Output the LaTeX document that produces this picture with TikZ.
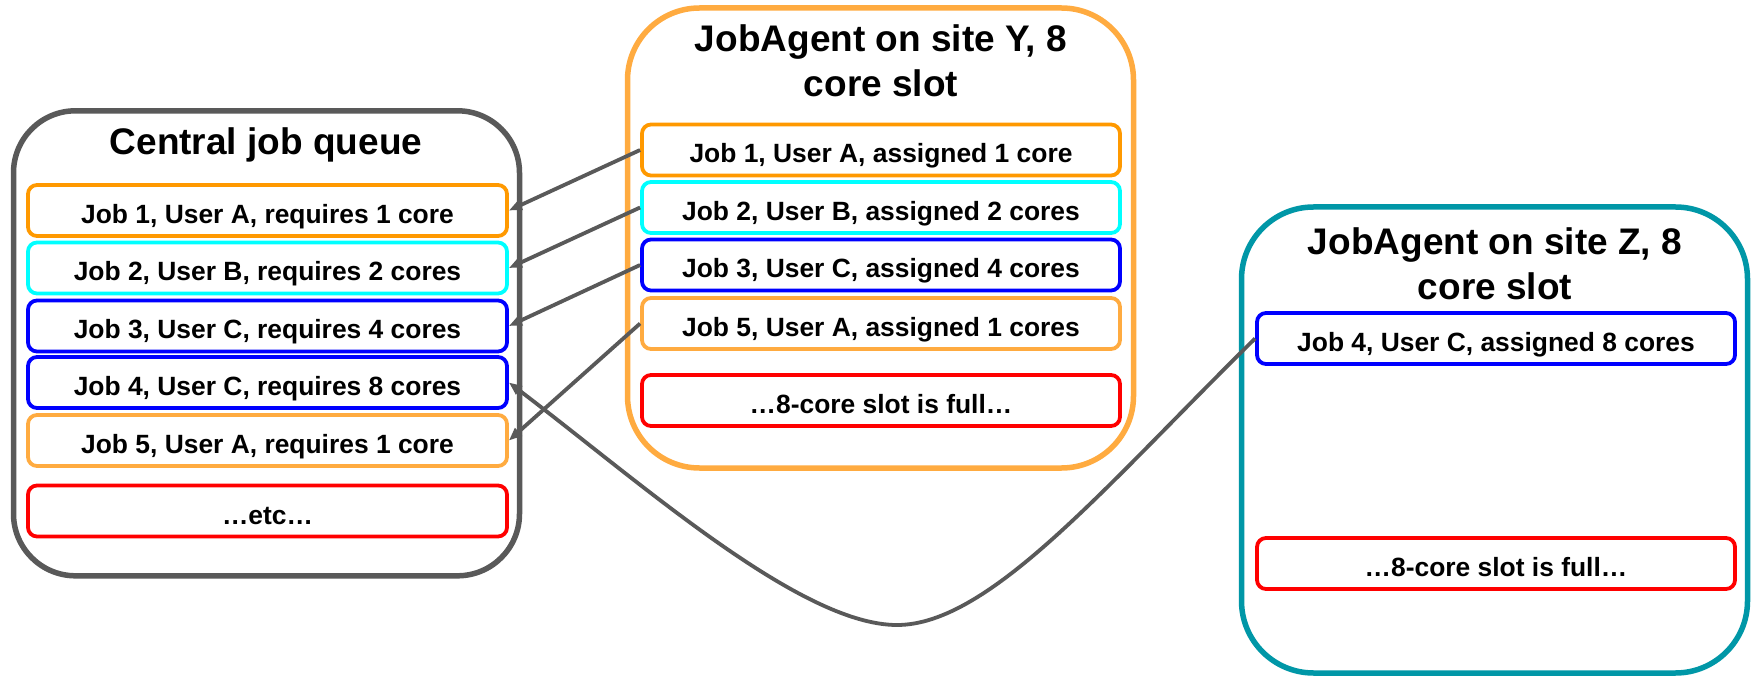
\documentclass[tikz,border=0pt]{standalone}
\usepackage{fontspec}
\setmainfont{Liberation Sans}
\usetikzlibrary{arrows.meta}

\definecolor{frame}{HTML}{595959}
\definecolor{jobA}{HTML}{FF9900}
\definecolor{jobAlt}{HTML}{FFAB40}
\definecolor{jobB}{HTML}{00FFFF}
\definecolor{jobC}{HTML}{0000FF}
\definecolor{fullred}{HTML}{FF0000}
\definecolor{siteZ}{HTML}{0097A7}

\tikzset{
  panel/.style={draw, line width=5.5pt, rounded corners=62pt, inner sep=0pt,
    minimum width=506pt, minimum height=465pt},
  jobbox/.style={draw, line width=3.8pt, rounded corners=9pt,
    minimum width=479pt, minimum height=51pt, inner sep=0pt,
    text height=26pt, text depth=0pt,
    font=\fontsize{26.4}{30}\selectfont\bfseries},
  paneltitle/.style={font=\fontsize{37}{45}\selectfont\bfseries,
    inner sep=0pt, anchor=base},
  link/.style={draw=frame, line width=3.8pt,
    -{Triangle[length=13pt,width=10pt]}}
}

\begin{document}
\begin{tikzpicture}[x=1pt, y=-1pt]
  \useasboundingbox[fill=white] (0,0) rectangle (1754,676);

  % the three panels
  \node[panel, draw=frame] (queue) at (266.5,343.3) {};
  \node[panel, draw=jobAlt, minimum height=460pt, rounded corners=72pt] (siteY) at (880.5,238) {};
  \node[panel, draw=siteZ, minimum height=466pt, rounded corners=72pt] (siteZ) at (1494.5,440) {};

  % panel titles
  \node[paneltitle] (queueTitle) at (266,155) {Central job queue};
  \node[paneltitle] (siteYTitle) at (881,52)
    {\begin{tabular}[t]{@{}c@{}}JobAgent on site Y, 8\\core slot\end{tabular}};
  \node[paneltitle] (siteZTitle) at (1495,255)
    {\begin{tabular}[t]{@{}c@{}}JobAgent on site Z, 8\\core slot\end{tabular}};

  % central queue entries
  \node[jobbox, draw=jobA]    (L1) at (267.5,210.5) {Job 1, User A, requires 1 core};
  \node[jobbox, draw=jobB]    (L2) at (267.5,268)   {Job 2, User B, requires 2 cores};
  \node[jobbox, draw=jobC]    (L3) at (267.5,326)   {Job 3, User C, requires 4 cores};
  \node[jobbox, draw=jobC]    (L4) at (267.5,382.5) {Job 4, User C, requires 8 cores};
  \node[jobbox, draw=jobAlt]  (L5) at (267.5,440.5) {Job 5, User A, requires 1 core};
  \node[jobbox, draw=fullred] (L6) at (267.5,511)   {…etc…};

  % site Y slot
  \node[jobbox, draw=jobA,    minimum width=478pt] (Y1) at (881,150)   {Job 1, User A, assigned 1 core};
  \node[jobbox, draw=jobB,    minimum width=478pt] (Y2) at (881,207.5) {Job 2, User B, assigned 2 cores};
  \node[jobbox, draw=jobC,    minimum width=478pt] (Y3) at (881,265)   {Job 3, User C, assigned 4 cores};
  \node[jobbox, draw=jobAlt,  minimum width=478pt] (Y5) at (881,323.5) {Job 5, User A, assigned 1 cores};
  \node[jobbox, draw=fullred, minimum width=478pt] (Y6) at (881,400.5) {…8-core slot is full…};

  % site Z slot
  \node[jobbox, draw=jobC,    minimum width=478pt] (Z4) at (1496,338.5) {Job 4, User C, assigned 8 cores};
  \node[jobbox, draw=fullred, minimum width=478pt] (Z6) at (1496,563.5) {…8-core slot is full…};

  % assignments back to the queue
  \draw[link] (Y1.west) -- (L1.east);
  \draw[link] (Y2.west) -- (L2.east);
  \draw[link] (Y3.west) -- (L3.east);
  \draw[link] (Y5.west) -- (L5.east);

  \coordinate (dip) at (897,625);
  \draw[link] (Z4.west) .. controls (1106,485) and (990,625) .. (dip)
                        .. controls (800,625) and (640,482) .. (L4.east);
\end{tikzpicture}
\end{document}
